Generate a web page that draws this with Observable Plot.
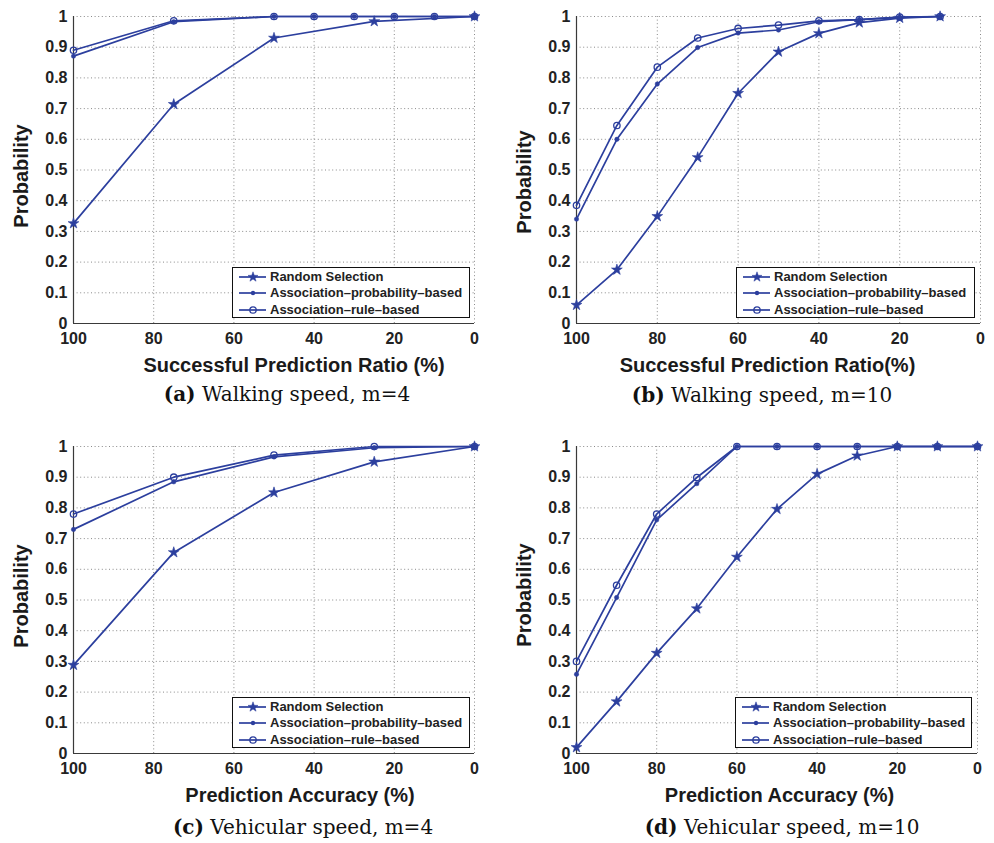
<!DOCTYPE html>
<html>
<head>
<meta charset="utf-8">
<script src="https://cdn.jsdelivr.net/npm/d3@7"></script>
<script src="https://cdn.jsdelivr.net/npm/@observablehq/plot@0.6"></script>
<style>
  html, body { margin: 0; padding: 0; background: #fff; }
  #root { position: relative; width: 994px; height: 843px; overflow: hidden; }
  .panel { position: absolute; }
  .caption { position: absolute; font-family: "DejaVu Serif", serif; font-size: 20px; color: #111; white-space: nowrap; transform: translate(-50%, -50%); }
  .legend { position: absolute; box-sizing: border-box; border: 1px solid #111; background: #fff; font-family: "Liberation Sans", Arial, sans-serif; font-weight: bold; font-size: 13px; color: #222; }
  .legend .row { position: absolute; left: 0; height: 14px; }
  .legend svg { position: absolute; left: 0; top: 0; }
  .legend span { position: absolute; left: 37px; top: 0; line-height: 14px; white-space: nowrap; }
</style>
</head>
<body>
<div id="root"></div>
<script>
// ---------- data ----------
const seriesNames = ["Random Selection", "Association–probability–based", "Association–rule–based"];
const xTicks = [100, 80, 60, 40, 20, 0];
const yTicks = [0, 0.1, 0.2, 0.3, 0.4, 0.5, 0.6, 0.7, 0.8, 0.9, 1];

// (a) Walking speed, m=4
const aRandomX = [100, 75, 50, 25, 0];
const aRandom  = [0.326, 0.714, 0.930, 0.984, 1.0];
const aAssocX  = [100, 75, 50, 40, 30, 20, 10, 0];
const aProb    = [0.871, 0.983, 1.0, 1.0, 1.0, 1.0, 1.0, 1.0];
const aRule    = [0.890, 0.986, 1.0, 1.0, 1.0, 1.0, 1.0, 1.0];

// (b) Walking speed, m=10
const bX      = [100, 90, 80, 70, 60, 50, 40, 30, 20, 10];
const bRandom = [0.060, 0.175, 0.349, 0.541, 0.750, 0.885, 0.945, 0.980, 0.995, 1.0];
const bProb   = [0.340, 0.600, 0.780, 0.899, 0.946, 0.956, 0.983, 0.990, 0.997, 1.0];
const bRule   = [0.385, 0.645, 0.835, 0.930, 0.961, 0.972, 0.986, 0.990, 0.998, 1.0];

// (c) Vehicular speed, m=4
const cX      = [100, 75, 50, 25, 0];
const cRandom = [0.288, 0.655, 0.850, 0.950, 1.0];
const cProb   = [0.730, 0.885, 0.966, 0.996, 1.0];
const cRule   = [0.780, 0.900, 0.972, 1.0, 1.0];

// (d) Vehicular speed, m=10
const dX      = [100, 90, 80, 70, 60, 50, 40, 30, 20, 10, 0];
const dRandom = [0.020, 0.169, 0.327, 0.472, 0.640, 0.796, 0.910, 0.970, 1.0, 1.0, 1.0];
const dProb   = [0.258, 0.508, 0.761, 0.879, 1.0, 1.0, 1.0, 1.0, 1.0, 1.0, 1.0];
const dRule   = [0.300, 0.548, 0.780, 0.899, 1.0, 1.0, 1.0, 1.0, 1.0, 1.0, 1.0];

const captions = [
  ["(a)", "Walking speed, m=4"],
  ["(b)", "Walking speed, m=10"],
  ["(c)", "Vehicular speed, m=4"],
  ["(d)", "Vehicular speed, m=10"]
];
const xLabels = [
  "Successful Prediction Ratio (%)",
  "Successful Prediction Ratio(%)",
  "Prediction Accuracy (%)",
  "Prediction Accuracy (%)"
];
const yLabel = "Probability";

// ---------- styling / layout ----------
const COLOR = "#2c3f9e";
const FONT = "'Liberation Sans', Arial, Helvetica, sans-serif";

function rows(xs, ys) { return xs.map((x, i) => ({x, y: ys[i]})); }

const panels = [
  {left: 0, top: 0, height: 420, mL: 73, mR: 23, mT: 16, mB: 97,
   random: rows(aRandomX, aRandom), prob: rows(aAssocX, aProb), rule: rows(aAssocX, aRule),
   xl: xLabels[0], xlDx: 20, xlDy: 41.6, ylDy: 6, cap: captions[0], capX: 287, capY: 394,
   legend: {left: 232, top: 267, width: 238, height: 51}},
  {left: 497, top: 0, height: 420, mL: 79, mR: 14, mT: 16, mB: 97,
   random: rows(bX, bRandom), prob: rows(bX, bProb), rule: rows(bX, bRule),
   xl: xLabels[1], xlDx: -11, xlDy: 41.6, ylDy: 12, cap: captions[1], capX: 762, capY: 395,
   legend: {left: 736, top: 267, width: 239, height: 51}},
  {left: 0, top: 420, height: 423, mL: 73, mR: 23, mT: 26, mB: 90,
   random: rows(cX, cRandom), prob: rows(cX, cProb), rule: rows(cX, cRule),
   xl: xLabels[2], xlDx: 26, xlDy: 42.3, ylDy: -4, cap: captions[2], capX: 303, capY: 827,
   legend: {left: 232, top: 697, width: 238, height: 51}},
  {left: 497, top: 420, height: 423, mL: 79, mR: 17, mT: 26, mB: 90,
   random: rows(dX, dRandom), prob: rows(dX, dProb), rule: rows(dX, dRule),
   xl: xLabels[3], xlDx: 2.5, xlDy: 42.3, ylDy: -5, cap: captions[3], capX: 782, capY: 827,
   legend: {left: 735, top: 697, width: 237, height: 51}}
];

const root = document.getElementById("root");

for (const p of panels) {
  const chart = Plot.plot({
    width: 497,
    height: p.height,
    marginLeft: p.mL, marginRight: p.mR, marginTop: p.mT, marginBottom: p.mB,
    style: {fontFamily: FONT, fontSize: "16px", fontWeight: "bold", color: "#222", background: "transparent", overflow: "visible"},
    x: {domain: [100, 0]},
    y: {domain: [0, 1]},
    marks: [
      Plot.gridX({ticks: xTicks, stroke: "#8a8a8a", strokeOpacity: 1, strokeWidth: 1, strokeDasharray: "1,2.6"}),
      Plot.gridY({ticks: yTicks, stroke: "#8a8a8a", strokeOpacity: 1, strokeWidth: 1, strokeDasharray: "1,2.6"}),
      Plot.ruleX([100], {stroke: "#3a3a3a", strokeWidth: 1.2}),
      Plot.ruleY([0], {stroke: "#3a3a3a", strokeWidth: 1.2}),
      Plot.axisX({ticks: xTicks, tickSize: 0, tickPadding: 9, label: null}),
      Plot.axisY({ticks: yTicks, tickSize: 0, tickPadding: 6, label: null, tickFormat: d => String(d)}),
      Plot.line(p.random, {x: "x", y: "y", stroke: COLOR, strokeWidth: 1.7}),
      Plot.line(p.prob, {x: "x", y: "y", stroke: COLOR, strokeWidth: 1.7}),
      Plot.line(p.rule, {x: "x", y: "y", stroke: COLOR, strokeWidth: 1.7}),
      Plot.dot(p.random, {x: "x", y: "y", symbol: "star", r: 3.4, fill: COLOR, stroke: COLOR, strokeWidth: 0.6}),
      Plot.dot(p.prob, {x: "x", y: "y", r: 2.2, fill: COLOR, stroke: COLOR, strokeWidth: 0.5}),
      Plot.dot(p.rule, {x: "x", y: "y", r: 3.2, fill: "none", stroke: COLOR, strokeWidth: 1.3}),
      Plot.text([p.xl], {frameAnchor: "bottom", dx: p.xlDx, dy: p.xlDy, textAnchor: "middle", lineAnchor: "middle", fontSize: 20, fontWeight: "bold", fill: "#1a1a1a"}),
      Plot.text([yLabel], {frameAnchor: "left", rotate: -90, dx: -52, dy: p.ylDy, textAnchor: "middle", lineAnchor: "middle", fontSize: 20, fontWeight: "bold", fill: "#1a1a1a"})
    ]
  });
  chart.classList.add("panel");
  chart.style.left = p.left + "px";
  chart.style.top = p.top + "px";
  root.appendChild(chart);

  // legend
  const lg = document.createElement("div");
  lg.className = "legend";
  Object.assign(lg.style, {left: p.legend.left + "px", top: p.legend.top + "px", width: p.legend.width + "px", height: p.legend.height + "px"});
  const rowCenters = [9.7, 26.3, 43];
  seriesNames.forEach((name, i) => {
    const row = document.createElement("div");
    row.className = "row";
    row.style.top = (rowCenters[i] - 1 - 7) + "px";
    row.style.width = "100%";
    let marker;
    if (i === 0) {
      const pts = d3.range(10).map(k => {
        const a = -Math.PI / 2 + k * Math.PI / 5;
        const rr = k % 2 === 0 ? 5.2 : 2.1;
        return [20 + rr * Math.cos(a), 7 + rr * Math.sin(a)];
      });
      marker = `<polygon points="${pts.map(q => q.join(",")).join(" ")}" fill="${COLOR}" stroke="${COLOR}" stroke-width="0.5"/>`;
    } else if (i === 1) {
      marker = `<circle cx="20" cy="7" r="2.2" fill="${COLOR}"/>`;
    } else {
      marker = `<circle cx="20" cy="7" r="3.2" fill="none" stroke="${COLOR}" stroke-width="1.3"/>`;
    }
    row.innerHTML = `<svg width="36" height="14"><line x1="6" x2="33" y1="7" y2="7" stroke="${COLOR}" stroke-width="1.7"/>${marker}</svg><span>${name}</span>`;
    lg.appendChild(row);
  });
  root.appendChild(lg);

  // caption
  const cap = document.createElement("div");
  cap.className = "caption";
  cap.style.left = p.capX + "px";
  cap.style.top = p.capY + "px";
  cap.innerHTML = `<b>${p.cap[0]}</b> ${p.cap[1]}`;
  root.appendChild(cap);
}
</script>
</body>
</html>
